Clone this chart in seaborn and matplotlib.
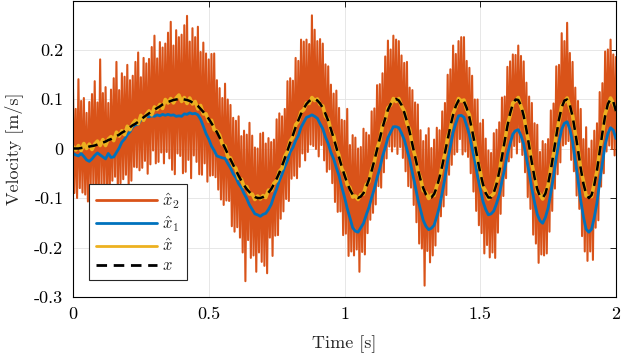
import numpy as np
import seaborn as sns
import matplotlib.pyplot as plt

# sample times [s]; the noisy estimate is read at twice the rate
time = np.linspace(0, 2, 201)
time_fine = np.linspace(0, 2, 401)

# velocities, in mm/s
x_mms = [0,0,0,1,2,2,4,5,6,8, 10,12,14,17,19,22,25,28,32,35,
         39,43,47,50,54,59,63,67,71,75, 78,82,85,89,92,94,96,98,99,100,
         100,99,98,96,93,90,86,80,74,67, 60,51,42,33,22,12,1,-11,-22,-33,
         -44,-55,-65,-74,-82,-88,-94,-98,-100,-100, -98,-95,-89,-82,-72,-61,-49,-35,-20,-4,
         12,27,43,57,70,81,90,96,99,100, 97,91,82,70,56,39,21,2,-18,-37,
         -54,-70,-83,-93,-98,-100,-97,-90,-78,-63, -45,-24,-2,20,42,61,78,90,98,100,
         97,88,73,55,33,8,-17,-41,-63,-80, -93,-99,-99,-92,-78,-58,-35,-8,19,45,
         68,86,97,100,95,82,63,37,9,-21, -49,-72,-90,-99,-99,-89,-72,-47,-17,15,
         45,71,90,99,98,87,66,38,5,-28, -59,-82,-97,-100,-91,-71,-43,-9,26,59,
         83,97,99,88,65,33,-4,-40,-71,-92, -100,-94,-74,-44,-6,32,66,90,100,95,
         75]

x_hat_mms = [4,-3,6,-4,10,0,9,-2,9,15, 6,18,6,19,24,16,33,25,36,28,
             45,38,50,57,50,67,57,69,76,68, 84,79,89,81,99,92,101,92,102,108,
             95,103,91,102,90,95,80,87,70,70, 55,57,38,35,27,9,5,-17,-19,-35,
             -40,-60,-62,-77,-77,-92,-92,-103,-96,-102, -95,-99,-84,-85,-70,-65,-46,-40,-16,-6,
             15,23,48,55,74,78,92,91,103,97, 100,89,86,65,59,36,26,0,-14,-41,
             -51,-73,-79,-98,-96,-103,-93,-92,-73,-67, -42,-27,0,16,47,58,82,88,101,95,
             101,86,76,51,38,5,-15,-45,-60,-85, -89,-101,-94,-95,-75,-62,-33,-11,23,40,
             71,84,101,96,98,79,68,35,13,-24, -47,-77,-86,-102,-96,-91,-68,-51,-12,12,
             48,67,92,96,103,85,70,34,8,-31, -57,-87,-93,-102,-88,-75,-38,-12,28,55,
             87,94,102,83,67,30,0,-42,-66,-96, -97,-97,-70,-46,-3,27,70,87,102,91,
             78]

x_1_mms = [-10,-13,-15,-10,-16,-23,-26,-21,-14,-9, -13,-17,-21,-10,-18,-17,-8,1,13,19,
           28,34,44,48,49,58,59,65,64,66, 65,68,66,69,67,69,67,68,65,66,
           65,70,69,72,70,71,68,59,45,30, 19,5,-4,-15,-17,-19,-20,-30,-39,-51,
           -59,-71,-79,-91,-101,-114,-123,-132,-134,-137, -133,-131,-123,-113,-96,-82,-65,-52,-37,-24,
           -7,2,16,26,43,53,63,65,68,65, 61,50,40,23,10,-8,-21,-39,-55,-78,
           -98,-121,-140,-160,-167,-169,-160,-151,-134,-119, -99,-81,-59,-40,-16,2,22,33,44,44,
           42,31,18,-2,-22,-49,-74,-102,-124,-145, -157,-164,-161,-155,-137,-117,-89,-59,-25,4,
           33,51,66,67,63,46,28,0,-25,-56, -82,-107,-123,-134,-132,-126,-111,-93,-66,-41,
           -12,10,29,36,38,26,9,-19,-48,-81, -109,-133,-146,-151,-139,-120,-89,-56,-18,13,
           39,51,54,39,14,-24,-63,-105,-138,-163, -169,-163,-139,-109,-67,-29,8,30,42,37,
           20]

x_2_mms = [120,-90,80,-100,140,-80,96,-89,102,-93,72,-107,94,-81,110,-75,136,-103,93,-91,
           180,-79,112,-77,124,-90,92,-102,119,-65,142,-57,175,-84,118,-70,152,-62,145,-53,
           169,-79,138,-65,147,-37,175,-38,194,-44,144,-39,183,-25,172,-51,181,-32,205,-4,
           228,-30,182,-27,215,-8,204,-30,212,-7,234,-20,256,-43,208,-52,239,-10,225,-15,
           230,-50,249,-47,268,-23,216,-60,243,-14,225,-27,246,-52,195,-53,214,-30,192,-67,
           180,-55,191,-54,192,-58,138,-83,122,-103,102,-114,131,-105,99,-106,88,-157,62,-168,
           56,-159,65,-180,25,-210,36,-268,28,-185,52,-221,26,-216,2,-249,0,-210,30,-229,
           32,-237,10,-252,21,-180,13,-217,18,-176,59,-175,71,-142,65,-127,80,-102,136,-106,
           142,-61,137,-55,183,-60,177,-37,220,-10,216,-24,220,-7,211,8,269,5,240,-1,
           217,-16,221,7,212,-24,170,-47,166,-42,129,-70,111,-108,117,-128,82,-127,58,-175,
           56,-172,80,-217,7,-208,27,-216,22,-204,0,-249,3,-209,40,-214,32,-171,27,-144,
           75,-130,81,-113,128,-76,130,-79,152,-48,186,-20,218,4,200,-6,228,4,220,-11,
           217,3,188,-19,173,-46,175,-76,123,-79,118,-114,93,-149,89,-192,37,-202,15,-277,
           27,-207,41,-230,1,-216,18,-196,42,-168,37,-137,75,-117,92,-94,149,-53,160,-33,
           208,-12,191,-7,217,19,225,-12,225,-6,177,-17,163,-50,147,-87,99,-126,99,-155,
           51,-171,58,-212,20,-195,-4,-220,-9,-210,31,-221,38,-170,53,-132,103,-96,105,-60,
           165,-26,176,-18,190,5,189,-10,208,13,187,-13,176,-48,133,-98,105,-122,92,-174,
           51,-192,48,-231,-7,-214,15,-216,9,-212,19,-168,77,-126,91,-81,166,-52,169,-28,
           233,6,217,9,254,15,193,-23,175,-46,123,-95,96,-122,80,-177,19,-208,43,-227,
           0,-208,16,-225,36,-160,51,-145,114,-77,132,-50,196,-6,200,6,220,-1,190,-14,
           185]

x_ref = np.array(x_mms) / 1000
x_hat = np.array(x_hat_mms) / 1000
x_1 = np.array(x_1_mms) / 1000
x_2 = np.array(x_2_mms) / 1000

sns.set_theme(style='whitegrid', rc={
    'axes.edgecolor': 'black',
    'axes.linewidth': 0.8,
    'grid.color': '#e3e3e3',
    'grid.linewidth': 0.6,
    'axes.unicode_minus': False,
    'mathtext.fontset': 'cm',
})
plt.rcParams['font.family'] = ['cmr10', 'DejaVu Serif']

fig = plt.figure(figsize=(6.25, 3.63), dpi=100)
ax = fig.add_axes([0.1168, 0.1818, 0.8688, 0.8168])

sns.lineplot(x=time_fine, y=x_2, ax=ax, color='#D95319', lw=1.5, label=r'$\hat{x}_2$', estimator=None, sort=False)
sns.lineplot(x=time, y=x_1, ax=ax, color='#0072BD', lw=2.0, label=r'$\hat{x}_1$', estimator=None, sort=False)
sns.lineplot(x=time, y=x_hat, ax=ax, color='#EDB120', lw=2.6, label=r'$\hat{x}$', estimator=None, sort=False)
sns.lineplot(x=time, y=x_ref, ax=ax, color='black', lw=1.8, linestyle=(0, (3.8, 2.4)),
             label=r'$x$', estimator=None, sort=False)

ax.set_xlim(0, 2)
ax.set_ylim(-0.3, 0.299)
ax.set_xticks([0, 0.5, 1, 1.5, 2])
ax.set_xticklabels(['0', '0.5', '1', '1.5', '2'])
ax.set_yticks([-0.3, -0.2, -0.1, 0, 0.1, 0.2])
ax.set_yticklabels(['-0.3', '-0.2', '-0.1', '0', '0.1', '0.2'])
ax.tick_params(direction='in', top=True, right=True, length=4, width=0.6, pad=7,
               labelsize=13, colors='black')
for s in ax.spines.values():
    s.set_visible(True)

ax.set_xlabel('Time [s]', fontsize=13)
ax.set_ylabel('Velocity [m/s]', fontsize=13)
ax.yaxis.set_label_coords(-0.092, 0.5)
ax.xaxis.set_label_coords(0.5, -0.128)

leg = ax.legend(loc='lower left', bbox_to_anchor=(0.0295, 0.057), borderaxespad=0,
                fontsize=12, handlelength=3.7, handletextpad=0.3, labelspacing=0.22,
                borderpad=0.4, fancybox=False, framealpha=1, edgecolor='#262626')
leg.get_frame().set_linewidth(0.8)
for line in leg.get_lines():
    line.set_linewidth(2.0)

fig.savefig('out.png', dpi=100)
